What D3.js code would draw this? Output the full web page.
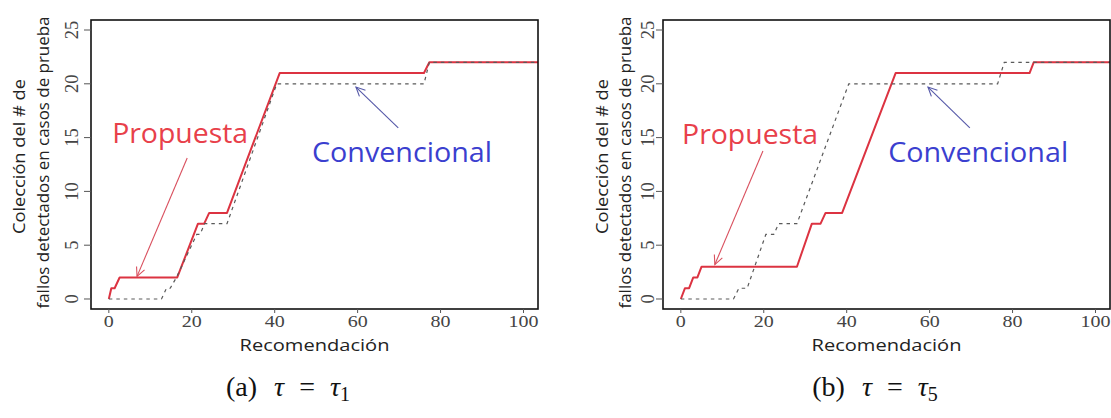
<!DOCTYPE html>
<html><head><meta charset="utf-8">
<script src="https://cdn.jsdelivr.net/npm/d3@7"></script>
<style>body{margin:0;background:#fff}</style>
</head><body><svg id="c" width="1111" height="418"></svg>
<script>
// ---- data ----
const xTicks = [0, 20, 40, 60, 80, 100];
const yTicks = [0, 5, 10, 15, 20, 25];
const xTitle = "Recomendación";
const yTitle1 = "Colección del # de";
const yTitle2 = "fallos detectados en casos de prueba";
const seriesNames = ["Propuesta", "Convencional"];
// panel (a) tau = tau1
const propA_x = [0, 0.6, 1.4, 2.6, 16.5, 21.5, 23, 24.2, 28.5, 41.2, 76, 77.3, 110];
const propA_y = [0, 1, 1, 2, 2, 7, 7, 8, 8, 21, 21, 22, 22];
const convA_x = [0, 12.7, 13.9, 14.8, 16.3, 21.2, 22, 23.1, 28.5, 40.5, 76, 77.3, 110];
const convA_y = [0, 0, 1, 1, 2, 6, 6, 7, 7, 20, 20, 22, 22];
// panel (b) tau = tau5
const propB_x = [0, 1, 2, 3, 4, 5, 28, 31.6, 33.7, 34.9, 38.9, 51.8, 84.1, 85.1, 110];
const propB_y = [0, 1, 1, 2, 2, 3, 3, 7, 7, 8, 8, 21, 21, 22, 22];
const convB_x = [0, 12.7, 14, 16, 20.5, 22.4, 23.6, 28, 40.5, 76.4, 78, 110];
const convB_y = [0, 0, 1, 1, 6, 6, 7, 7, 20, 20, 22, 22];
// annotation anchors (data units): text x,y ; arrow from -> to
const annA = {prop:{tx:0.8, ty:14.5, ax:[18.9,13.1], bx:[6.8,2.1]}, conv:{tx:49, ty:12.7, ax:[69.8,15.9], bx:[59.6,19.7]}};
const annB = {prop:{tx:0.3, ty:14.4, ax:[19.8,13.75], bx:[8.2,3.2]}, conv:{tx:50, ty:12.7, ax:[69.7,15.9], bx:[59.6,19.7]}};

// ---- layout ----
const svg = d3.select("#c");
const panels = [
  {left:91, right:538, top:20, bottom:309, px:propA_x, py:propA_y, cx:convA_x, cy:convA_y, ann:annA,
   tickLab:72, t2:43, t1:19, cap:"a", sub:"1", capX:288},
  {left:663, right:1110, top:20, bottom:309, px:propB_x, py:propB_y, cx:convB_x, cy:convB_y, ann:annB,
   tickLab:648, t2:625, t1:602, cap:"b", sub:"5", capX:875}
];

const defs = svg.append("defs");

panels.forEach((p, i) => {
  const x = d3.scaleLinear().domain([-4.3, 103.5]).range([p.left, p.right]);
  const y = d3.scaleLinear().domain([-0.93, 25.93]).range([p.bottom, p.top]);
  const g = svg.append("g");
  defs.append("clipPath").attr("id", "clip" + i).append("rect")
    .attr("x", p.left).attr("y", p.top).attr("width", p.right - p.left).attr("height", p.bottom - p.top);

  const line = d3.line().x(d => x(d[0])).y(d => y(d[1]));
  const prop = p.px.map((v, k) => [v, p.py[k]]);
  const conv = p.cx.map((v, k) => [v, p.cy[k]]);
  const lg = g.append("g").attr("clip-path", `url(#clip${i})`);
  lg.append("path").attr("d", line(prop)).attr("fill", "none")
    .attr("stroke", "#dc3341").attr("stroke-width", 2).attr("stroke-linejoin", "round");
  lg.append("path").attr("d", line(conv)).attr("fill", "none")
    .attr("stroke", "#5a5a5a").attr("stroke-width", 1.2).attr("stroke-dasharray", "3.5,4");

  // box
  g.append("rect").attr("x", p.left).attr("y", p.top).attr("width", p.right - p.left)
    .attr("height", p.bottom - p.top).attr("fill", "none").attr("stroke", "#111").attr("stroke-width", 1.6);

  // y ticks
  yTicks.forEach(t => {
    g.append("line").attr("x1", p.left - 7).attr("x2", p.left).attr("y1", y(t)).attr("y2", y(t))
      .attr("stroke", "#555").attr("stroke-width", 1);
    g.append("text").attr("transform", `translate(${p.tickLab + 6},${y(t)}) rotate(-90)`)
      .attr("text-anchor", "middle").attr("font-family", "Liberation Serif").attr("font-size", 18.5)
      .attr("fill", "#444").text(t);
  });
  // x ticks
  xTicks.forEach(t => {
    g.append("line").attr("x1", x(t)).attr("x2", x(t)).attr("y1", p.bottom).attr("y2", p.bottom + 4)
      .attr("stroke", "#555").attr("stroke-width", 1);
    g.append("text").attr("transform", `translate(${x(t)},${p.bottom + 18}) scale(1.25,1)`)
      .attr("text-anchor", "middle").attr("font-family", "Liberation Serif").attr("font-size", 16)
      .attr("fill", "#444").text(t);
  });
  // x title
  const midX = (p.left + p.right) / 2;
  g.append("text").attr("x", midX).attr("y", 351).attr("text-anchor", "middle")
    .attr("font-family", "Open Sans").attr("font-size", 15.5).attr("fill", "#222")
    .attr("textLength", 150).attr("lengthAdjust", "spacingAndGlyphs").text(xTitle);
  // y titles
  const midY = (p.top + p.bottom) / 2;
  g.append("text").attr("transform", `translate(${p.t1 + 6},${midY - 8}) rotate(-90)`)
    .attr("text-anchor", "middle").attr("font-family", "Open Sans").attr("font-size", 15.5).attr("fill", "#222")
    .attr("textLength", 155).attr("lengthAdjust", "spacingAndGlyphs").text(yTitle1);
  g.append("text").attr("transform", `translate(${p.t2 + 6},${midY - 2}) rotate(-90)`)
    .attr("text-anchor", "middle").attr("font-family", "Open Sans").attr("font-size", 15.5).attr("fill", "#222")
    .attr("textLength", 292).attr("lengthAdjust", "spacingAndGlyphs").text(yTitle2);

  // annotations
  const arrow = (a, b, col) => {
    const x1 = x(a[0]), y1 = y(a[1]), x2 = x(b[0]), y2 = y(b[1]);
    const ang = Math.atan2(y2 - y1, x2 - x1), L = 10, w = Math.PI / 7;
    g.append("line").attr("x1", x1).attr("y1", y1).attr("x2", x2).attr("y2", y2)
      .attr("stroke", col).attr("stroke-width", 1.1);
    const pth = `M${x2 - L * Math.cos(ang - w)},${y2 - L * Math.sin(ang - w)}L${x2},${y2}L${x2 - L * Math.cos(ang + w)},${y2 - L * Math.sin(ang + w)}`;
    g.append("path").attr("d", pth).attr("fill", "none").attr("stroke", col).attr("stroke-width", 1.1);
  };
  arrow(p.ann.prop.ax, p.ann.prop.bx, "#d9505e");
  arrow(p.ann.conv.ax, p.ann.conv.bx, "#5558a8");
  g.append("text").attr("x", x(p.ann.prop.tx)).attr("y", y(p.ann.prop.ty))
    .attr("font-family", "Open Sans").attr("font-size", 27.5).attr("fill", "#e8404a")
    .attr("textLength", 136).attr("lengthAdjust", "spacingAndGlyphs").text(seriesNames[0]);
  g.append("text").attr("x", x(p.ann.conv.tx)).attr("y", y(p.ann.conv.ty))
    .attr("font-family", "Open Sans").attr("font-size", 27.5).attr("fill", "#3b3fcf")
    .attr("textLength", 180).attr("lengthAdjust", "spacingAndGlyphs").text(seriesNames[1]);

  // caption
  const cap = g.append("text").attr("x", p.capX).attr("y", 396).attr("text-anchor", "middle")
    .attr("font-family", "Liberation Serif").attr("font-size", 28).attr("fill", "#111");
  cap.append("tspan").text(`(${p.cap})`);
  cap.append("tspan").attr("dx", 17).attr("font-style", "italic").text("\u03c4");
  cap.append("tspan").attr("dx", 15).text("=");
  cap.append("tspan").attr("dx", 15).attr("font-style", "italic").text("\u03c4");
  cap.append("tspan").attr("font-size", 20).attr("dy", 5).text(p.sub);
});
</script>
</body></html>
